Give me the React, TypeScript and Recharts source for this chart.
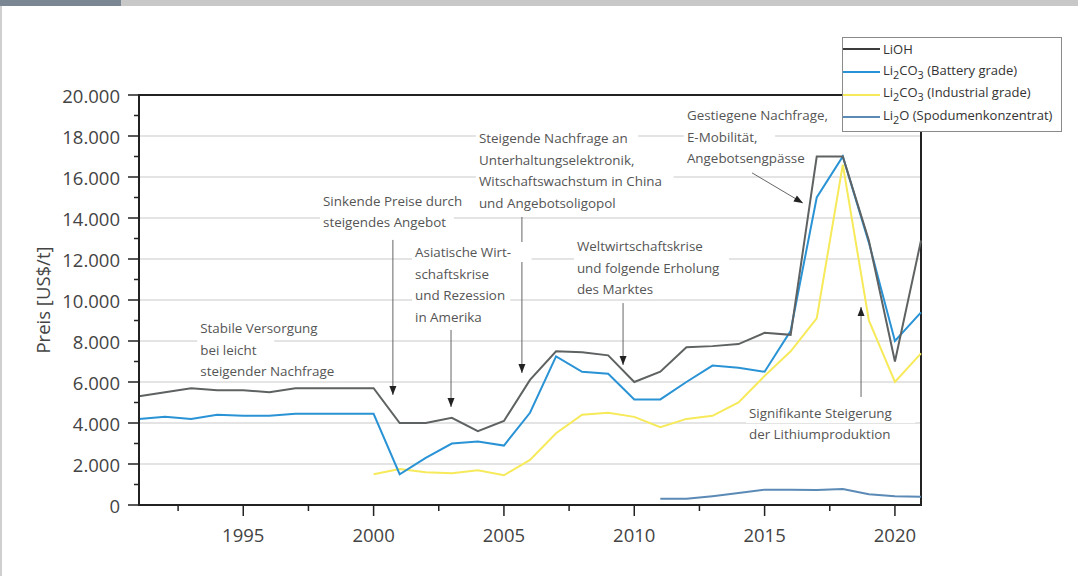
import {
  CartesianGrid,
  Line,
  LineChart,
  ReferenceArea,
  ReferenceDot,
  ReferenceLine,
  XAxis,
  YAxis,
} from "recharts";

const YEARS = [
  1991, 1992, 1993, 1994, 1995, 1996, 1997, 1998, 1999, 2000, 2001, 2002, 2003,
  2004, 2005, 2006, 2007, 2008, 2009, 2010, 2011, 2012, 2013, 2014, 2015, 2016,
  2017, 2018, 2019, 2020, 2021,
];

const LIOH = [
  5300, 5500, 5700, 5600, 5600, 5500, 5700, 5700, 5700, 5700, 4000, 4000, 4250,
  3600, 4100, 6100, 7500, 7450, 7300, 6000, 6500, 7700, 7750, 7850, 8400, 8300,
  17000, 17000, 12900, 7000, 12900,
];

const BATTERY = [
  4200, 4300, 4200, 4400, 4350, 4350, 4450, 4450, 4450, 4450, 1500, 2300, 3000,
  3100, 2900, 4500, 7250, 6500, 6400, 5150, 5150, 6000, 6800, 6700, 6500, 8500,
  15000, 17000, 12800, 8000, 9400,
];

const INDUSTRIAL = [
  null, null, null, null, null, null, null, null, null, 1500, 1750, 1600, 1550,
  1700, 1450, 2200, 3500, 4400, 4500, 4300, 3800, 4200, 4350, 5000, 6300, 7500,
  9100, 16600, 9000, 6000, 7400,
];

const LI2O = [
  null, null, null, null, null, null, null, null, null, null, null, null, null,
  null, null, null, null, null, null, null, 300, 300, 430, 580, 750, 750, 730,
  780, 520, 430, 400,
];

const X_TICKS = [1992.5, 1995, 1997.5, 2000, 2002.5, 2005, 2007.5, 2010, 2012.5, 2015, 2017.5, 2020];
const Y_TICKS = [
  0, 1000, 2000, 3000, 4000, 5000, 6000, 7000, 8000, 9000, 10000, 11000, 12000,
  13000, 14000, 15000, 16000, 17000, 18000, 19000, 20000,
];
const GRID_VALUES = [2000, 4000, 6000, 8000, 10000, 12000, 14000, 16000, 18000];

// text blocks, anchored at the first line (year, price)
const NOTES = [
  { x: 1993.35, y: 8630, lines: ["Stabile Versorgung", "bei leicht", "steigender Nachfrage"] },
  { x: 1998.06, y: 14830, lines: ["Sinkende Preise durch", "steigendes Angebot"] },
  { x: 2001.59, y: 12340, lines: ["Asiatische Wirt-", "schaftskrise", "und Rezession", "in Amerika"] },
  {
    x: 2004.04,
    y: 17900,
    lines: ["Steigende Nachfrage an", "Unterhaltungselektronik,", "Witschaftswachstum in China", "und Angebotsoligopol"],
  },
  { x: 2007.8, y: 12630, lines: ["Weltwirtschaftskrise", "und folgende Erholung", "des Marktes"] },
  { x: 2012.02, y: 19020, lines: ["Gestiegene Nachfrage,", "E-Mobilität,", "Angebotsengpässe"] },
  { x: 2014.4, y: 4490, lines: ["Signifikante Steigerung", "der Lithiumproduktion"] },
];

const ARROWS = [
  { x1: 2000.74, y1: 12930, x2: 2000.74, y2: 5370, angle: 90 },
  { x1: 2002.97, y1: 8540, x2: 2002.97, y2: 4780, angle: 90 },
  { x1: 2005.69, y1: 14050, x2: 2005.69, y2: 6440, angle: 90 },
  { x1: 2009.57, y1: 9850, x2: 2009.57, y2: 6830, angle: 90 },
  { x1: 2014.52, y1: 16200, x2: 2016.47, y2: 14730, angle: 30.5 },
  { x1: 2018.7, y1: 5270, x2: 2018.7, y2: 9660, angle: -90 },
];

const FONT = '"Open Sans", "Noto Sans", sans-serif';
const INK = "#555";

const data = YEARS.map((year, i) => ({
  year,
  lioh: LIOH[i],
  battery: BATTERY[i],
  industrial: INDUSTRIAL[i],
  li2o: LI2O[i],
}));

function fmt(v: number) {
  return String(v).replace(/\B(?=(\d{3})+(?!\d))/g, ".");
}

function XTick(props: any) {
  const { x, y, payload } = props;
  const major = payload.value % 5 === 0;
  return (
    <g>
      <line x1={x} x2={x} y1={y} y2={y + (major ? 11 : 6)} stroke="#222" strokeWidth={1.5} />
      {major && (
        <text x={x} y={y + 29} textAnchor="middle" dominantBaseline="central" fontSize={18.5} fill="#444" fontFamily={FONT}>
          {payload.value}
        </text>
      )}
    </g>
  );
}

function YTick(props: any) {
  const { x, y, payload } = props;
  const major = payload.value % 2000 === 0;
  return (
    <g>
      <line x1={x - (major ? 11 : 5)} x2={x} y1={y} y2={y} stroke="#222" strokeWidth={1.5} />
      {major && (
        <text x={x - 19} y={y} textAnchor="end" dominantBaseline="central" fontSize={18.5} fill="#444" fontFamily={FONT}>
          {fmt(payload.value)}
        </text>
      )}
    </g>
  );
}

function Note({ cx, cy, lines }: { cx: number; cy: number; lines: string[] }) {
  const lh = 21.5;
  return (
    <g>
      {lines.map((l, i) => (
        <rect key={"r" + i} x={cx - 3} y={cy + i * lh - 10} width={l.length * 7.1 + 6} height={20} fill="#fff" />
      ))}
      {lines.map((l, i) => (
        <text
          key={i}
          x={cx}
          y={cy + i * lh}
          dominantBaseline="central"
          fontSize={13.4}
          fill={INK}
          fontFamily={FONT}
        >
          {l}
        </text>
      ))}
    </g>
  );
}

function Head({ cx, cy, angle }: { cx: number; cy: number; angle: number }) {
  return (
    <path
      d="M0,0 L-9,-3.5 L-9,3.5 Z"
      fill="#222"
      transform={`translate(${cx},${cy}) rotate(${angle})`}
    />
  );
}

const LEGEND = [
  { color: "#3c3c3c", label: <>LiOH</> },
  { color: "#2a93d5", label: <>Li<sub>2</sub>CO<sub>3</sub> (Battery grade)</> },
  { color: "#f6ea5a", label: <>Li<sub>2</sub>CO<sub>3</sub> (Industrial grade)</> },
  { color: "#5a8ab5", label: <>Li<sub>2</sub>O (Spodumenkonzentrat)</> },
];

export default function App() {
  return (
    <div style={{ position: "absolute", left: 0, top: 0, width: 1078, height: 576, background: "#fff", overflow: "hidden" }}>
      <div style={{ position: "absolute", left: 0, top: 0, width: 1078, height: 6, background: "#c8c8c8" }} />
      <div style={{ position: "absolute", left: 0, top: 0, width: 121, height: 6, background: "#7a8793" }} />
      <div style={{ position: "absolute", left: 0, top: 6, width: 2, height: 570, background: "#cfcfcf" }} />

      <LineChart width={1078} height={576} data={data} margin={{ top: 95, right: 157, bottom: 31, left: 79 }}>
        <CartesianGrid horizontal vertical={false} horizontalValues={GRID_VALUES} stroke="#c9c9c9" strokeWidth={1} />
        <XAxis
          dataKey="year"
          type="number"
          domain={[1991, 2021]}
          ticks={X_TICKS}
          interval={0}
          height={40}
          tickSize={0}
          tickMargin={0}
          tickLine={false}
          axisLine={{ stroke: "#222", strokeWidth: 2 }}
          tick={<XTick />}
        />
        <YAxis
          type="number"
          domain={[0, 20000]}
          ticks={Y_TICKS}
          interval={0}
          width={60}
          tickSize={0}
          tickMargin={0}
          tickLine={false}
          axisLine={{ stroke: "#222", strokeWidth: 2 }}
          tick={<YTick />}
        />
        <ReferenceArea x1={1991} x2={2021} y1={0} y2={20000} fill="none" stroke="#222" strokeWidth={2} />

        <Line type="linear" dataKey="li2o" stroke="#5a8ab5" strokeWidth={2} dot={false} isAnimationActive={false} />
        <Line type="linear" dataKey="industrial" stroke="#f6ea5a" strokeWidth={2} dot={false} isAnimationActive={false} />
        <Line type="linear" dataKey="battery" stroke="#2a93d5" strokeWidth={2} dot={false} isAnimationActive={false} />
        <Line type="linear" dataKey="lioh" stroke="#5f6262" strokeWidth={2} dot={false} isAnimationActive={false} />

        {NOTES.map((n, i) => (
          <ReferenceDot
            key={"n" + i}
            x={n.x}
            y={n.y}
            r={0}
            shape={(p: any) => <Note cx={p.cx} cy={p.cy} lines={n.lines} />}
          />
        ))}
        {ARROWS.map((a, i) => (
          <ReferenceLine
            key={"a" + i}
            segment={[
              { x: a.x1, y: a.y1 },
              { x: a.x2, y: a.y2 },
            ]}
            stroke="#666"
            strokeWidth={1}
          />
        ))}
        {ARROWS.map((a, i) => (
          <ReferenceDot
            key={"h" + i}
            x={a.x2}
            y={a.y2}
            r={0}
            shape={(p: any) => <Head cx={p.cx} cy={p.cy} angle={a.angle} />}
          />
        ))}
      </LineChart>

      <div
        style={{
          position: "absolute",
          left: 42,
          top: 300,
          transform: "translate(-50%, -50%) rotate(-90deg)",
          fontFamily: FONT,
          fontSize: 18.5,
          color: "#444",
          whiteSpace: "nowrap",
        }}
      >
        Preis [US$/t]
      </div>

      <div
        style={{
          position: "absolute",
          left: 842,
          top: 37,
          width: 220,
          height: 95,
          background: "#fff",
          border: "1px solid #8a8a8a",
          boxSizing: "border-box",
          fontFamily: FONT,
          fontSize: 13,
          color: "#333",
        }}
      >
        {LEGEND.map((l, i) => (
          <div key={i} style={{ display: "flex", alignItems: "center", height: 22.7, lineHeight: "14px" }}>
            <span style={{ display: "inline-block", width: 37, height: 2, background: l.color, marginRight: 3 }} />
            <span style={{ whiteSpace: "nowrap" }}>{l.label}</span>
          </div>
        ))}
      </div>
    </div>
  );
}
